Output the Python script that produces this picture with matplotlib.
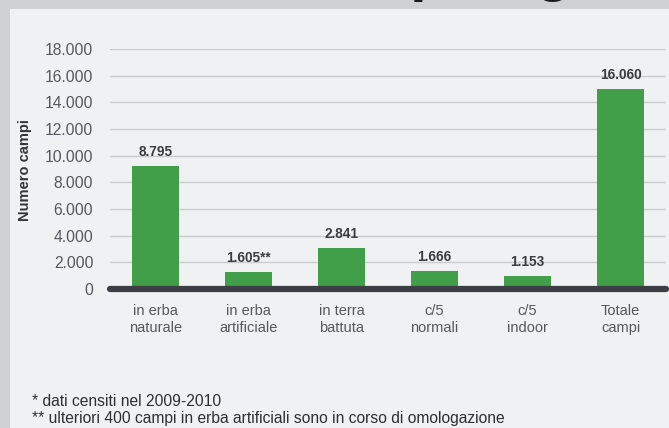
import matplotlib
matplotlib.use("Agg")
import matplotlib.pyplot as plt
from matplotlib.patches import Rectangle
from matplotlib.ticker import FuncFormatter

categories = ["in erba\nnaturale", "in erba\nartificiale", "in terra\nbattuta",
              "c/5\nnormali", "c/5\nindoor", "Totale\ncampi"]
# bar heights as drawn in the picture
bar_heights = [9230, 1280, 3110, 1380, 990, 15030]
# printed value labels
value_labels = ["8.795", "1.605**", "2.841", "1.666", "1.153", "16.060"]
y_ticks = [0, 2000, 4000, 6000, 8000, 10000, 12000, 14000, 16000, 18000]
y_label = "Numero campi"
footnotes = ["* dati censiti nel 2009-2010",
             "** ulteriori 400 campi in erba artificiali sono in corso di omologazione"]
title_fragment = "tipologia"

W, H = 669, 428
plt.rcParams['font.family'] = ['Liberation Sans', 'DejaVu Sans']

fig = plt.figure(figsize=(W / 100, H / 100), dpi=100)
fig.patch.set_facecolor("#d0d1d3")

# light panel (drawn above the cut-off title so only the band shows it)
fig.add_artist(Rectangle((10 / W, 0), 1.0, 1 - 9 / H, transform=fig.transFigure,
                         facecolor="#eff1f2", edgecolor="none", zorder=2))

# cut-off title (only descenders visible)
fig.text(374 / W, 1 + 10.5 / H, title_fragment, fontsize=42.7, fontweight="bold",
         color="#1a1a1a", ha="left", va="baseline", zorder=1)

ax = fig.add_axes([110 / W, (H - 289) / H, 556 / W, 240 / H])
ax.set_zorder(3)
ax.set_facecolor("none")
x = list(range(len(categories)))
ax.bar(x, bar_heights, width=0.505, color="#419e49", zorder=2)
ax.set_xlim(-0.489, 5.489)
ax.set_ylim(0, 18000)
ax.set_yticks(y_ticks)
ax.yaxis.set_major_formatter(FuncFormatter(lambda v, p: f"{int(v):,}".replace(",", ".")))
ax.grid(axis="y", color="#c9cbcd", linewidth=1.0, zorder=1)
ax.set_axisbelow(True)
for s in ax.spines.values():
    s.set_visible(False)
ax.axhline(0, color="#3b3e42", linewidth=4.5, solid_capstyle="round",
           clip_on=False, zorder=3)

ax.set_xticks(x)
ax.set_xticklabels(categories, fontsize=10.5, color="#55595d", linespacing=1.25)
ax.tick_params(axis="x", length=0, pad=11)
ax.tick_params(axis="y", length=0, pad=12, labelsize=11.3, labelcolor="#55595d")

for xi, h, lab in zip(x, bar_heights, value_labels):
    ax.annotate(lab, (xi, h), xytext=(0, 5), textcoords="offset points",
                ha="center", va="bottom", fontsize=9.8, fontweight="bold",
                color="#3a3c3f")

fig.text(25 / W, 1 - 170 / H, y_label, rotation=90, fontsize=10.5,
         fontweight="bold", color="#333538", ha="center", va="center", zorder=4)

fig.text(32 / W, 1 - 401 / H, footnotes[0], fontsize=11.25, color="#2e2f31",
         ha="left", va="center", zorder=4)
fig.text(32 / W, 1 - 419 / H, footnotes[1], fontsize=11.25, color="#2e2f31",
         ha="left", va="center", zorder=4)

fig.savefig("out.png", dpi=100, facecolor=fig.get_facecolor())
